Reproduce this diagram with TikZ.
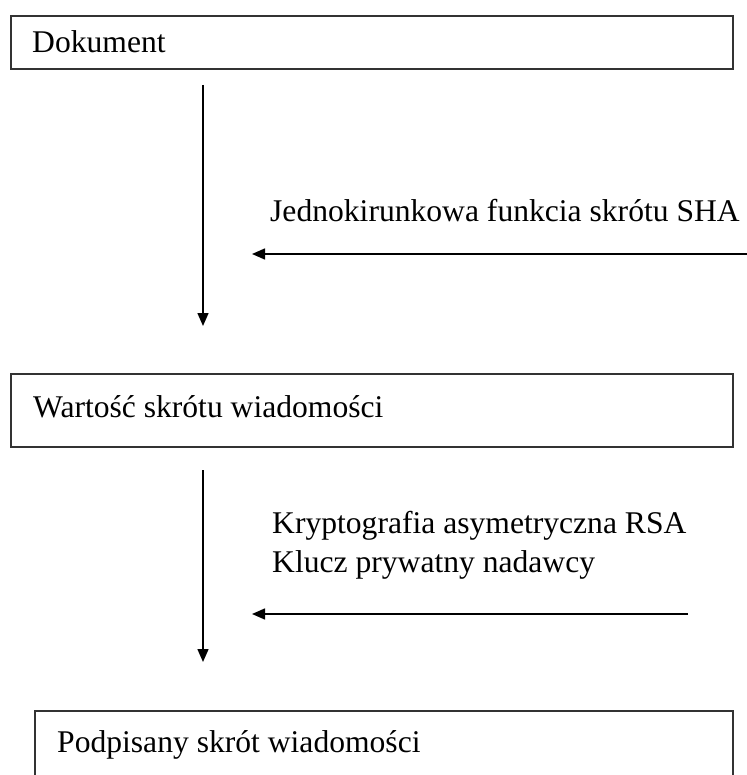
\documentclass[tikz,border=0pt]{standalone}
\usepackage{fontspec}
\setmainfont{Liberation Serif}
\usetikzlibrary{arrows.meta}
\begin{document}
\begin{tikzpicture}[x=1pt,y=-1pt,
  box/.style={draw=black!80,line width=2pt,rectangle,anchor=north west,inner sep=0pt},
  lbl/.style={anchor=base west,inner sep=0pt,font=\fontsize{31.6}{39}\selectfont},
  arr/.style={line width=1.5pt,-{Triangle[length=13pt,width=11pt]}}]
\useasboundingbox (0,0) rectangle (746,775);
% boxes
\node[box,minimum width=722pt,minimum height=53pt] (b1) at (10,15) {};
\node[box,minimum width=722pt,minimum height=73pt] (b2) at (10,373) {};
\node[box,minimum width=698pt,minimum height=90pt] (b3) at (34,710) {};
% box texts
\node[lbl] (t1) at (32,53) {Dokument};
\node[lbl] (t2) at (33,417) {Wartość skrótu wiadomości};
\node[lbl] (t3) at (57,752) {Podpisany skrót wiadomości};
% side texts
\node[lbl] (s1) at (270,222) {Jednokirunkowa funkcia skrótu SHA};
\node[lbl] (s2) at (272,533) {Kryptografia asymetryczna RSA};
\node[lbl] (s3) at (272,572) {Klucz prywatny nadawcy};
% connector ends
\coordinate (a1s) at (203,85);
\coordinate (a1e) at (203,326);
\coordinate (a2s) at (203,470);
\coordinate (a2e) at (203,662);
\coordinate (h1s) at (750,254);
\coordinate (h1e) at (252,254);
\coordinate (h2s) at (688,614);
\coordinate (h2e) at (252,614);
\draw[arr] (a1s) -- (a1e);
\draw[arr] (a2s) -- (a2e);
\draw[arr] (h1s) -- (h1e);
\draw[arr] (h2s) -- (h2e);
\end{tikzpicture}
\end{document}
